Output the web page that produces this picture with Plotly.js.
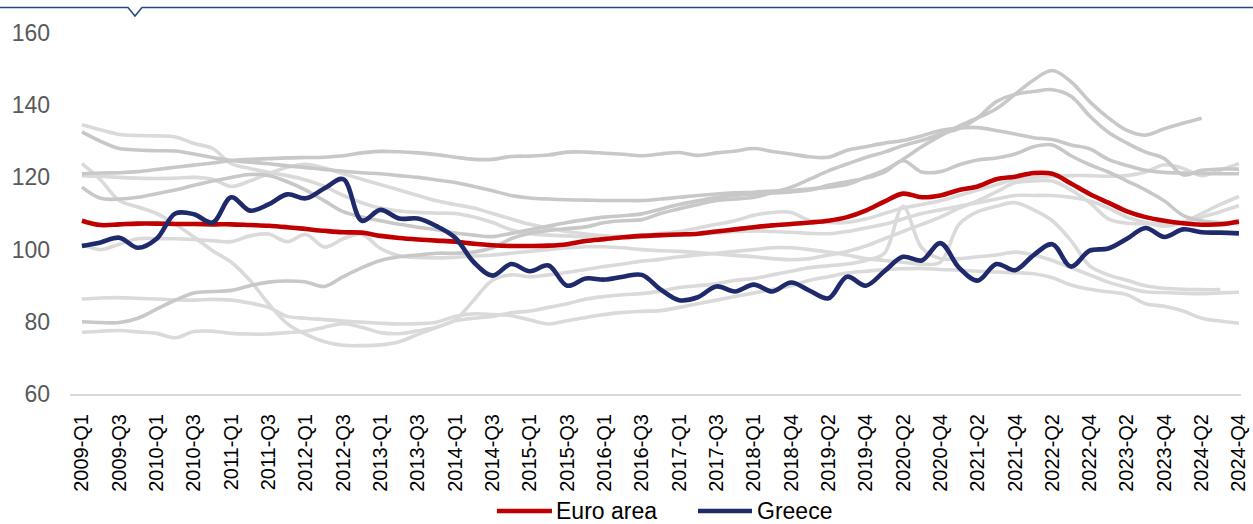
<!DOCTYPE html>
<html>
<head>
<meta charset="utf-8">
<script src="https://cdn.plot.ly/plotly-3.0.1.min.js"></script>
<style>
  html, body { margin: 0; padding: 0; background: #ffffff; }
  #chart { width: 1253px; height: 524px; }
</style>
</head>
<body>
<div id="chart"></div>
<script>
// Quarterly index values, 2009-Q1 to 2024-Q4 (2018-Q2 not reported)
const quarters = [
  '2009-Q1','2009-Q2','2009-Q3','2009-Q4',
  '2010-Q1','2010-Q2','2010-Q3','2010-Q4',
  '2011-Q1','2011-Q2','2011-Q3','2011-Q4',
  '2012-Q1','2012-Q2','2012-Q3','2012-Q4',
  '2013-Q1','2013-Q2','2013-Q3','2013-Q4',
  '2014-Q1','2014-Q2','2014-Q3','2014-Q4',
  '2015-Q1','2015-Q2','2015-Q3','2015-Q4',
  '2016-Q1','2016-Q2','2016-Q3','2016-Q4',
  '2017-Q1','2017-Q2','2017-Q3','2017-Q4',
  '2018-Q1','2018-Q3','2018-Q4',
  '2019-Q1','2019-Q2','2019-Q3','2019-Q4',
  '2020-Q1','2020-Q2','2020-Q3','2020-Q4',
  '2021-Q1','2021-Q2','2021-Q3','2021-Q4',
  '2022-Q1','2022-Q2','2022-Q3','2022-Q4',
  '2023-Q1','2023-Q2','2023-Q3','2023-Q4',
  '2024-Q1','2024-Q2','2024-Q3','2024-Q4'
];

const euroArea = [
  108, 106.8, 107, 107.2,
  107.2, 107.1, 107.1, 107,
  107, 106.8, 106.6, 106.2,
  105.7, 105.2, 104.8, 104.7,
  103.8, 103.2, 102.8, 102.5,
  102.2, 101.6, 101.2, 101,
  101, 101.1, 101.5, 102.4,
  102.9, 103.4, 103.8, 104,
  104.2, 104.4, 105, 105.6,
  106.2, 106.7, 107.1,
  107.5, 108, 109, 110.8,
  113.3, 115.5, 114.5, 115,
  116.5, 117.5, 119.5, 120.2,
  121.2, 121, 118.3, 115.4,
  113, 110.6, 109, 108,
  107.3, 106.9, 107, 107.8
];

const greece = [
  101, 102, 103.3, 100.5,
  103, 110, 109.8, 107.5,
  114.5, 110.8, 112.5, 115.3,
  114.2, 117, 119.5, 108,
  111, 108.6, 108.6, 106.5,
  103.3, 96.5, 92.8, 96,
  94, 95.6, 90, 92,
  91.7, 92.5, 93, 89,
  86, 86.8, 89.8, 88.4,
  90.3, 88.4, 90.9,
  88.6, 86.5, 92.5, 90,
  94, 98, 97, 101.8,
  95, 91.4, 96, 94.3,
  98.5, 101.5, 95.3, 99.7,
  100.3, 103, 106, 103.5,
  105.6, 104.8, 104.7, 104.5
];

// Other euro area members (unlabelled context lines)
const otherA = [
  121, 121.2, 121.3, 121.6,
  122.2, 122.8, 123.4, 124,
  124.7, 125, 125.2, 125.4,
  125.5, 125.6, 126, 126.8,
  127.2, 127.1, 126.8, 126.3,
  125.6, 125, 125, 125.8,
  125.9, 126.2, 127, 127,
  126.7, 126.4, 126, 126.5,
  126.9, 126.1, 126.8, 127.3,
  128, 127.2, 126.5,
  125.7, 125.6, 127.5, 128.5,
  129.5, 130.2, 131.5, 133,
  133.7, 133.8, 133, 132,
  131, 130.5, 129, 127.9,
  125, 123.3, 122, 121.4,
  121.2, 121.1, 121, 121
];
const otherB = [
  132.6, 130, 128, 127.6,
  127.4, 127.3, 126.5, 125.5,
  124.7, 124.2, 123.8, 123.2,
  122.7, 122.2, 121.7, 121.3,
  121, 120.5, 120, 119.3,
  118.6, 117.5, 116.3, 115,
  114.3, 114, 113.8, 113.7,
  113.6, 113.6, 113.6, 114,
  114.5, 115, 115.4, 115.7,
  115.9, 116.2, 116.4,
  116.8, 117.3, 118, 120,
  122, 125, 128.5, 131.5,
  134.2, 136.5, 139, 143,
  147, 149.6, 146.5, 141,
  136.5, 133, 131.7, 133.5,
  135, 136.4, null, null
];
const otherC = [
  80, 79.8, 79.8, 81,
  83.5, 86, 88, 88.4,
  88.7, 90, 91, 91.3,
  91, 89.8, 92.5, 95,
  97, 98, 98.5, 99,
  99, 99.3, 100.5, 103,
  104.5, 105.3, 105.8, 106.3,
  107.5, 108, 108.3, 110,
  111.3, 112.5, 113.6, 114,
  114.5, 115.8, 117.3,
  119.5, 121.8, 123.7, 125.5,
  127, 128.8, 130.2, 132,
  133.5, 136.5, 141, 143,
  143.8, 144.3, 142.5, 137,
  132.5, 129.5, 127, 125.2,
  120.7, 122, 122.3, 122.3
];
const otherD = [
  117.3, 114.2, 114, 114.5,
  115.5, 116.5, 117.8, 119,
  120, 120.8, 120.5, 118.8,
  116.5, 113.5, 110.5, 109,
  108, 107, 106.2, 105.5,
  104.6, 104, 103.6, 104.5,
  105.5, 106.5, 107.5, 108.3,
  109, 109.4, 109.9, 111.2,
  112.5, 113.5, 114.4, 115,
  115.4, 115.7, 116,
  116.5, 117.8, 118.8, 119.8,
  121.5, 124.6, 121.5, 121.6,
  123.5, 124.8, 125.4, 126.5,
  128.5, 129, 126, 123.5,
  121.5, 119, 116.5, 113.5,
  109.5, 108, 107.5, 107.2
];
const otherE = [
  134.6, 133.2, 131.9, 131.6,
  131.5, 131.2, 129.4, 128,
  123.8, 122.5, 121.4, 120.5,
  119.3, 117.5, 115, 113,
  111.5, 110.7, 110.3, 110.1,
  110, 109, 107.5, 105.5,
  104.4, 104, 103.8, 103.6,
  103.5, 103.7, 104, 104.5,
  105, 106, 107, 108,
  109.5, 110.3, 110.3,
  108, 107.5, 107.5, 108.5,
  110, 111.5, 112.5, 113.5,
  115, 116.5, 118, 119.5,
  120, 120.3, 120.5, 120.5,
  120.3, 120.5, 121.5, 123.5,
  122.5, 120.5, 122, 123.8
];
const otherF = [
  120.5, 120.3, 120, 119.8,
  119.7, 119.8, 120, 119.5,
  117.5, 119, 121, 122.8,
  123.6, 122.6, 121, 119.5,
  118, 116.5, 115, 113.5,
  112.5, 111.5, 110, 108.5,
  107, 106, 105, 104.3,
  103.8, 103.5, 103.5, 103.8,
  104, 104.3, 104.6, 105,
  105.2, 105, 104.8,
  104.5, 104.4, 105, 106,
  107, 108.5, 110, 111,
  112, 113, 114, 115,
  115, 115, 114.5, 113.5,
  111.5, 109, 107.5, 106.5,
  107.5, 110, 112.5, 114.7
];
const otherG = [
  101.6, 100, 101.5, 103,
  103, 103, 102.8, 102.5,
  102.2, 103.8, 104.3, 102.2,
  104.2, 100.7, 103, 104.2,
  100.3, 98.3, 97.8, 97.7,
  97.9, 98.2, 98.5, 99,
  99.5, 100, 100.5, 100.8,
  100.8, 100.5, 100, 99.7,
  99.5, 99.2, 98.8, 98.4,
  98, 97.5, 97.2,
  97.5, 98.5, 99.5, 101,
  103, 105, 107, 109,
  111.5, 113.5, 116, 118.5,
  119, 119, 116.5, 113,
  108.5, 107.3, 107.2, 107.3,
  107.5, 109, 110.5, 112.2
];
const otherH = [
  123.8, 119.3, 113.6, 111.8,
  110, 107, 103.5, 99.7,
  96.5, 91.5, 85, 79.5,
  76.5, 74.5, 73.5, 73.4,
  73.6, 74.5, 76.5, 78.5,
  80.5, 86, 91.5, 93,
  92.5, 93, 93.7, 94.5,
  95.3, 96, 96.8, 97.3,
  98, 98.5, 99, 99.5,
  100, 100.5, 100.5,
  100, 99.3, 98.5, 97.5,
  97, 96.5, 96, 96.5,
  107, 110.5, 112, 113,
  111, 108, 102.5, 95.5,
  93, 91.5, 90, 89.3,
  89, 88.9, 88.9, null
];
const otherI = [
  77.1, 77.4, 77.6, 77.2,
  76.8, 75.6, 77.3, 77.4,
  76.8, 76.6, 76.6, 77,
  77.4, 78.5, 79.5, 78.5,
  77, 76.7, 77.5, 78.5,
  80.3, 81, 81.5, 82.5,
  83, 84, 85, 86.3,
  87, 87.5, 87.8, 88.5,
  89.5, 90, 90.5, 91.5,
  92, 93, 94,
  95, 95.5, 96, 97,
  99, 112, 100.5, 97.5,
  97.5, 98, 98.5, 99.3,
  98.5, 97, 95, 93,
  91, 89.5, 88.3, 88.1,
  87.9, 87.8, 88, 88.2
];
const otherJ = [
  86.3, 86.6, 86.7, 86.5,
  86.3, 86.1, 86, 86.2,
  86, 85.2, 84, 81.5,
  81, 80.6, 80.2, 79.9,
  79.6, 79.4, 79.5, 79.9,
  81.5, 82.2, 82, 81.7,
  80.5, 79.4, 80.3, 81.2,
  82, 82.6, 82.9, 83.1,
  84, 85, 86, 87,
  88, 89, 90,
  91.5, 92.5, 93.5, 94,
  94.5, 94.7, 94.8, 94.5,
  94.3, 94, 93.8, 93.6,
  93.3, 92.2, 90.2, 89,
  88.3, 87.5, 85, 84.3,
  83, 81, 80.2, 79.6
];

const otherSeries = [otherA, otherB, otherC, otherD, otherE, otherF, otherG, otherH, otherI, otherJ];
const otherShades = ['#c8c8c8', '#c8c8c8', '#c8c8c8', '#c8c8c8',
                     '#dadada', '#dadada', '#dadada', '#dadada', '#dadada', '#dadada'];

const legendNames = ['Euro area', 'Greece'];
const legendColors = ['#c00000', '#1f2a6c'];

const FONT = 'Liberation Sans, Arial, Helvetica, sans-serif';

const traces = [];
// light lines first, darker greys above them
const drawOrder = [4, 5, 6, 7, 8, 9, 0, 1, 2, 3];
drawOrder.forEach(function (k) {
  traces.push({
    type: 'scatter', mode: 'lines',
    x: quarters, y: otherSeries[k],
    line: { color: otherShades[k], width: 3.6, shape: 'spline', smoothing: 1 },
    showlegend: false, hoverinfo: 'skip', connectgaps: false
  });
});
traces.push({
  type: 'scatter', mode: 'lines', name: legendNames[0],
  x: quarters, y: euroArea, showlegend: false,
  line: { color: legendColors[0], width: 4.6, shape: 'spline', smoothing: 1 }
});
traces.push({
  type: 'scatter', mode: 'lines', name: legendNames[1],
  x: quarters, y: greece, showlegend: false,
  line: { color: legendColors[1], width: 4.6, shape: 'spline', smoothing: 1 }
});

// every second quarter gets a label
const labelled = quarters.filter(function (q, i) { return i % 2 === 0; });

// Legend row under the axis: swatch + label for each highlighted series
const legendY = -0.3241;
const legendSwatches = [[0.3646, 0.4116], [0.5363, 0.5824]];
const legendShapes = legendSwatches.map(function (s, i) {
  return {
    type: 'line', xref: 'paper', yref: 'paper',
    x0: s[0], x1: s[1], y0: legendY, y1: legendY,
    line: { color: legendColors[i], width: 4.6 }
  };
});
const legendLabels = legendSwatches.map(function (s, i) {
  return {
    xref: 'paper', yref: 'paper', x: s[1] + 0.003, y: legendY,
    xanchor: 'left', yanchor: 'middle', showarrow: false,
    borderpad: 0,
    text: legendNames[i],
    font: { family: FONT, size: 23, color: '#000000' }
  };
});

const layout = {
  width: 1253, height: 524,
  margin: { l: 70, r: 12, t: 33, b: 130 },
  paper_bgcolor: '#ffffff', plot_bgcolor: '#ffffff',
  font: { family: FONT, color: '#000000' },
  showlegend: false,
  xaxis: {
    type: 'category', categoryorder: 'array', categoryarray: quarters,
    range: [-0.64, 62.11],
    tickmode: 'array', tickvals: labelled, ticktext: labelled,
    tickangle: -90, ticks: '', ticklabelstandoff: 10,
    tickfont: { family: FONT, size: 20, color: '#000000' },
    showgrid: false, zeroline: false,
    showline: true, linecolor: '#d9d9d9', linewidth: 2
  },
  yaxis: {
    range: [60, 160], tickmode: 'linear', tick0: 60, dtick: 20,
    ticks: '', ticklabelstandoff: 19,
    tickfont: { family: FONT, size: 23, color: '#595959' },
    showgrid: false, zeroline: false, showline: false
  },
  shapes: [{
    type: 'path', xref: 'paper', yref: 'paper',
    path: 'M -0.0598,1.0706 L 0.0495,1.0706 L 0.0555,1.0471 L 0.0615,1.0706 L 1.0102,1.0706',
    line: { color: '#24487f', width: 1.5 }
  }].concat(legendShapes),
  annotations: legendLabels
};

Plotly.newPlot('chart', traces, layout, { staticPlot: true, displayModeBar: false });
</script>
</body>
</html>
